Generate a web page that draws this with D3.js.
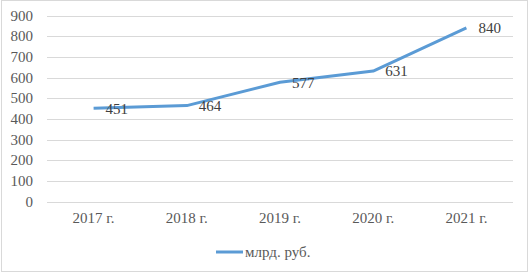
<!DOCTYPE html>
<html>
<head>
<meta charset="utf-8">
<script src="https://cdn.jsdelivr.net/npm/d3@7"></script>
<style>
  body { margin: 0; background: #fff; }
</style>
</head>
<body>
<div id="chart"></div>
<script>
// chart data
const years = ['2017 г.', '2018 г.', '2019 г.', '2020 г.', '2021 г.'];
const values = [451, 464, 577, 631, 840];
const yTicks = [0, 100, 200, 300, 400, 500, 600, 700, 800, 900];
const seriesName = 'млрд. руб.';

const width = 529;
const height = 274;
const margin = {top: 15.5, bottom: 72.5, left: 47, right: 16};
const font = "'Liberation Serif', 'Times New Roman', Times, serif";

const svg = d3.select('#chart')
    .append('svg')
    .attr('width', width)
    .attr('height', height);

// outer frame
svg.append('rect')
    .attr('x', 1.5).attr('y', 0.5)
    .attr('width', 526).attr('height', 271)
    .attr('fill', '#fff')
    .attr('stroke', '#d9d9d9');

const x = d3.scaleBand()
    .domain(years)
    .range([margin.left, width - margin.right]);

const y = d3.scaleLinear()
    .domain([0, 900])
    .range([height - margin.bottom, margin.top]);

// gridlines
svg.append('g')
    .selectAll('line')
    .data(yTicks)
    .join('line')
    .attr('x1', margin.left)
    .attr('x2', width - margin.right)
    .attr('y1', d => Math.round(y(d)) + 0.5)
    .attr('y2', d => Math.round(y(d)) + 0.5)
    .attr('stroke', '#d9d9d9')
    .attr('stroke-width', 1);

// y axis
function yAxis(g) {
    g.attr('transform', `translate(${margin.left},0)`)
        .call(d3.axisLeft(y).tickValues(yTicks).tickSize(0).tickPadding(14))
        .call(g => g.select('.domain').remove());
    g.selectAll('text')
        .style('font-family', font)
        .style('font-size', '15px')
        .attr('fill', '#595959');
}

// x axis
function xAxis(g) {
    g.attr('transform', `translate(0,${height - margin.bottom})`)
        .call(d3.axisBottom(x).tickSize(0).tickPadding(11))
        .call(g => g.select('.domain').remove());
    g.selectAll('text')
        .style('font-family', font)
        .style('font-size', '15px')
        .attr('fill', '#595959');
}

svg.append('g').call(yAxis);
svg.append('g').call(xAxis);

const cx = (d, i) => x(years[i]) + x.bandwidth() / 2;

const line = d3.line()
    .x(cx)
    .y(d => y(d));

svg.append('path')
    .datum(values)
    .attr('fill', 'none')
    .attr('stroke', '#5b9bd5')
    .attr('stroke-width', 3)
    .attr('stroke-linejoin', 'round')
    .attr('d', line);

// data labels
svg.append('g')
    .selectAll('text')
    .data(values)
    .join('text')
    .attr('x', (d, i) => cx(d, i) + 12)
    .attr('y', d => y(d))
    .attr('dy', '0.35em')
    .style('font-family', font)
    .style('font-size', '15px')
    .attr('fill', '#404040')
    .text(d => d);

// legend
const legend = svg.append('g');
legend.append('line')
    .attr('x1', 216).attr('x2', 243)
    .attr('y1', 252).attr('y2', 252)
    .attr('stroke', '#5b9bd5')
    .attr('stroke-width', 3);
legend.append('text')
    .attr('x', 245)
    .attr('y', 252)
    .attr('dy', '0.35em')
    .style('font-family', font)
    .style('font-size', '15px')
    .attr('fill', '#595959')
    .text(seriesName);
</script>
</body>
</html>
